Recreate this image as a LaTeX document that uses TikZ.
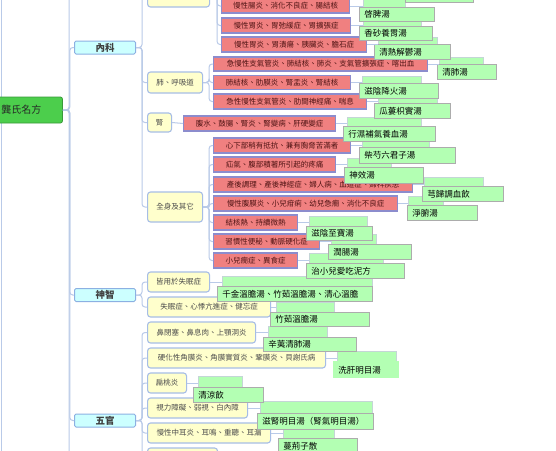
\documentclass[tikz,border=0pt]{standalone}
\usepackage{fontspec}
\newfontfamily\cjk{Noto Sans CJK TC}
\usepackage{tikz}
\usetikzlibrary{positioning}
\usepackage{xcolor}

\definecolor{rootgreen}{RGB}{76,206,76}
\definecolor{catcyan}{RGB}{204,255,255}
\definecolor{catedge}{RGB}{140,176,226}
\definecolor{subyellow}{RGB}{255,255,204}
\definecolor{subedge}{RGB}{166,189,230}
\definecolor{disred}{RGB}{240,128,128}
\definecolor{disedge}{RGB}{140,140,205}
\definecolor{distext}{RGB}{80,20,20}
\definecolor{rxgreen}{RGB}{179,255,179}
\definecolor{rxedge}{RGB}{172,172,172}
\definecolor{rxback}{RGB}{196,214,214}
\definecolor{linkblue}{RGB}{185,202,232}

\tikzset{
  conn/.style={draw=linkblue, line width=1pt, rounded corners=3pt},
  rootnode/.style={anchor=west, fill=rootgreen, draw=rootgreen!75!black, line width=0.8pt,
    rounded corners=2pt, minimum height=26pt, font=\cjk\fontsize{10}{12}\selectfont, text=black!85},
  catnode/.style={anchor=west, fill=catcyan, draw=catedge, line width=1pt, rounded corners=1.5pt,
    minimum width=61pt, minimum height=13pt, inner sep=0pt, font=\cjk\bfseries\fontsize{9.5}{11}\selectfont, text=black!75},
  subnode/.style={anchor=west, fill=subyellow, draw=subedge, line width=1.1pt, rounded corners=3pt,
    minimum width=#1pt, minimum height=20pt, inner sep=2pt, font=\cjk\fontsize{7.5}{9}\selectfont, text=black!70},
  disnode/.style={anchor=west, fill=disred, draw=disedge, line width=1.1pt,
    minimum width=#1pt, minimum height=15pt, inner sep=2pt, font=\cjk\fontsize{7.5}{9}\selectfont, text=distext},
  rxb/.style={anchor=north west, fill=rxgreen, draw=rxback, line width=0.7pt, inner sep=0pt, minimum width=#1pt},
  rxf/.style={anchor=north west, fill=rxgreen, draw=rxedge, line width=0.8pt, inner xsep=5pt, inner ysep=0pt,
    text width=#1pt, align=left, font=\cjk\fontsize{8.5}{10}\selectfont, text=black}
}

\begin{document}
\begin{tikzpicture}[x=1pt,y=-1pt]
\useasboundingbox[fill=white] (0,0) rectangle (556,450);

% outer edge and trunk ends
\coordinate (edgetop) at (1,-5);
\coordinate (edgebot) at (1,455);
\coordinate (trunktop) at (69,-5);
\coordinate (trunkbot) at (69,455);
\draw[conn] (edgetop) -- (edgebot);

% root and first level
\node[rootnode, minimum width=82pt] (root) at (-20,110) {龔氏名方};
\node[catnode] (neike) at (74,47.5) {內科};
\node[catnode] (shenzhi) at (74,295) {神智};
\node[catnode] (wuguan) at (74,420.5) {五官};

% second level
\node[subnode=62] (weichang) at (147,-3) {胃腸、消化器};
\node[subnode=55, minimum height=21pt] (fei) at (147,82.5) {肺、呼吸道};
\node[subnode=24, minimum height=19pt] (shen) at (147,122.5) {腎};
\node[subnode=55, minimum height=30pt] (quanshen) at (147,207) {全身及其它};
\node[subnode=62] (shimian) at (147,282) {皆用於失眠症};
\node[subnode=123] (xinji) at (147,307) {失眠症、心悸亢進症、健忘症};
\node[subnode=108, minimum height=21pt] (bi) at (147,332.5) {鼻閉塞、鼻息肉、上顎洞炎};
\node[subnode=178] (mo) at (147,358) {硬化性角膜炎、角膜實質炎、鞏膜炎、貝謝氏病};
\node[subnode=39] (biantao) at (147,383) {扁桃炎};
\node[subnode=100] (shili) at (147,408) {視力障礙、弱視、白內障};
\node[subnode=123] (er) at (147,433) {慢性中耳炎、耳鳴、重聽、耳漏};
\node[subnode=70] (wuguanlast) at (147,458) {};

% third level
\node[disnode=128, minimum height=14pt] (d1) at (221,6) {慢性腸炎、消化不良症、腸結核};
\node[disnode=129] (d2) at (221,25.5) {慢性胃炎、胃弛緩症、胃擴張症};
\node[disnode=145] (d3) at (221,44.5) {慢性胃炎、胃潰瘍、胰臟炎、膽石症};
\node[disnode=214, minimum height=14pt] (d4) at (213,64) {急慢性支氣管炎、肺結核、肺炎、支氣管擴張症、喀出血};
\node[disnode=137, minimum height=14pt] (d5) at (213,82.5) {肺結核、肋膜炎、腎盂炎、腎結核};
\node[disnode=153] (d6) at (213,101.5) {急性慢性支氣管炎、肋間神經痛、喘息};
\node[disnode=152] (d7) at (183,123.5) {腹水、鼓腸、腎炎、腎變病、肝硬變症};
\node[disnode=137] (d8) at (213,145.5) {心下部稍有抵抗、兼有胸脅苦滿者};
\node[disnode=122] (d9) at (213,164.5) {疝氣、腹部積著所引起的疼痛};
\node[disnode=199] (d10) at (213,184.5) {產後調理、產後神經症、婦人病、血道症、婦科疾患};
\node[disnode=184] (d11) at (213,203.5) {慢性腹膜炎、小兒疳痢、幼兒急癇、消化不良症};
\node[disnode=84] (d12) at (213,222.5) {結核熱、持續微熱};
\node[disnode=106] (d13) at (213,241.5) {習慣性便秘、動脈硬化症};
\node[disnode=84] (d14) at (213,260.5) {小兒癇症、異食症};

% formula boxes, back layer
\node[rxb=42, minimum height=14pt] (b1) at (363,-1) {};
\node[rxb=58, minimum height=11pt] (b2) at (363,21) {};
\node[rxb=59, minimum height=13pt] (b3) at (378,37) {};
\node[rxb=44, minimum height=13pt] (b4) at (439,57) {};
\node[rxb=59, minimum height=13pt] (b5) at (362,76) {};
\node[rxb=59, minimum height=12pt] (b6) at (378,97) {};
\node[rxb=74, minimum height=15pt] (b7) at (347,117) {};
\node[rxb=67, minimum height=15pt] (b8) at (362,138) {};
\node[rxb=44, minimum height=15pt] (b9) at (347,158) {};
\node[rxb=59, minimum height=15pt] (b10) at (424,177) {};
\node[rxb=35, minimum height=15pt] (b11) at (408,196) {};
\node[rxb=58, minimum height=16pt] (b12) at (309,216) {};
\node[rxb=45, minimum height=16pt] (b13) at (331,234) {};
\node[rxb=74, minimum height=16pt] (b14) at (309,253) {};
\node[rxb=150, minimum height=16pt] (b15) at (222,276) {};
\node[rxb=58, minimum height=16pt] (b16) at (276,302) {};
\node[rxb=59, minimum height=17pt] (b17) at (268,326) {};
\node[rxb=59, minimum height=16pt] (b18) at (337,351) {};
\node[rxb=44, minimum height=17pt] (b19) at (198,376) {};
\node[rxb=112, minimum height=18pt] (b20) at (260,401) {};
\node[rxb=51, minimum height=16pt] (b21) at (283,428) {};

% formula boxes, front layer
\node[rxf=58, minimum height=15pt] (f0) at (405,-13) {};
\node[rxf=65, minimum height=14pt] (f1) at (359,7) {啓脾湯};
\node[rxf=63, minimum height=14pt] (f2) at (359,26) {香砂養胃湯};
\node[rxf=66, minimum height=15pt] (f3) at (374,44) {清熱解鬱湯};
\node[rxf=49, minimum height=15pt] (f4) at (437,64) {清肺湯};
\node[rxf=69, minimum height=15pt] (f5) at (359,83) {滋陰降火湯};
\node[rxf=66, minimum height=15pt] (f6) at (374,103) {瓜蔞枳實湯};
\node[rxf=82, minimum height=15pt] (f7) at (343,126) {行濕補氣養血湯};
\node[rxf=86, minimum height=16pt] (f8) at (359,147) {柴芍六君子湯};
\node[rxf=69, minimum height=16pt] (f9) at (344,167) {神效湯};
\node[rxf=71, minimum height=15pt] (f10) at (422,186) {芎歸調血飲};
\node[rxf=60, minimum height=15pt] (f11) at (407,205) {淨腑湯};
\node[rxf=56, minimum height=14pt] (f12) at (306,226) {滋陰至寶湯};
\node[rxf=73, minimum height=15pt] (f13) at (328,244) {潤腸湯};
\node[rxf=88, minimum height=15pt] (f14) at (306,263) {治小兒愛吃泥方};
\node[rxf=145, minimum height=15pt] (f15) at (217,286) {千金溫膽湯、竹茹溫膽湯、清心溫膽};
\node[rxf=89, minimum height=14pt] (f16) at (270,312) {竹茹溫膽湯};
\node[rxf=83, minimum height=14pt] (f17) at (263,337) {辛荑清肺湯};
\node[rxf=56, minimum height=17pt, draw=none] (f18) at (333,361) {洗肝明目湯};
\node[rxf=60, minimum height=15pt] (f19) at (193,387) {清涼飲};
\node[rxf=106, minimum height=16pt] (f20) at (257,413) {滋腎明目湯（腎氣明目湯）};
\node[rxf=69, minimum height=15pt] (f21) at (278,438) {蔓荊子散};

% trunk
\draw[conn] (root.east) -| (trunktop);
\draw[conn] (root.east) -| (trunkbot);
\foreach \c in {neike,shenzhi,wuguan}
  \draw[conn] (root.east) -- ++(7,0) |- (\c.west);

% second level links
\foreach \s in {weichang,fei,shen,quanshen}
  \draw[conn] (neike.east) -- ++(6,0) |- (\s.west);
\foreach \s in {shimian,xinji}
  \draw[conn] (shenzhi.east) -- ++(6,0) |- (\s.west);
\foreach \s in {bi,mo,biantao,shili,er,wuguanlast}
  \draw[conn] (wuguan.east) -- ++(6,0) |- (\s.west);

% third level links
\foreach \d in {d1,d2,d3}
  \draw[conn] (weichang.east) -- ++(7,0) |- (\d.west);
\foreach \d in {d4,d5,d6}
  \draw[conn] (fei.east) -- ++(6,0) |- (\d.west);
\draw[conn] (shen.east) -- (d7.west);
\foreach \d in {d8,d9,d10,d11,d12,d13,d14}
  \draw[conn] (quanshen.east) -- ++(6,0) |- (\d.west);

% formula links
\foreach \p/\b in {d1/b1,d2/b2,d3/b3,d4/b4,d5/b5,d6/b6,d7/b7,d8/b8,d9/b9,d10/b10,d11/b11,d12/b12,d13/b13,d14/b14,
    shimian/b15,xinji/b16,bi/b17,mo/b18,biantao/b19,shili/b20,er/b21}
  \draw[conn] (\p.east) -- (\p.east -| \b.west);
\end{tikzpicture}
\end{document}
